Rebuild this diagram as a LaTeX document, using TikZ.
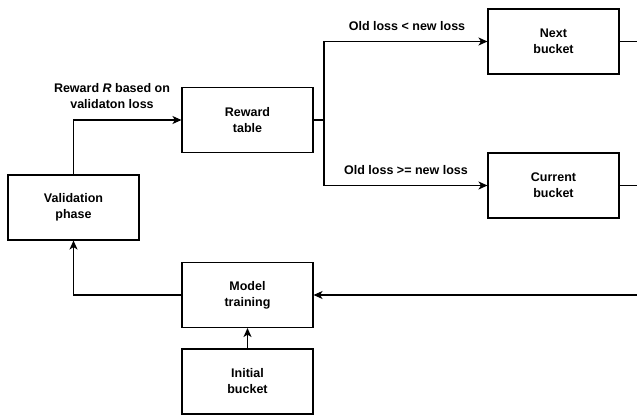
\documentclass[tikz,border=0pt]{standalone}
\usepackage{fontspec}
\setmainfont{Liberation Sans}
\usetikzlibrary{arrows.meta}
\begin{document}
\begin{tikzpicture}[x=1pt,y=-1pt,
  box/.style={draw,line width=1.1pt,minimum width=131pt,minimum height=65pt,inner sep=0pt,align=center,font=\fontsize{12.5}{16}\selectfont\bfseries},
  lbl/.style={align=center,inner sep=0pt,font=\fontsize{12.5}{16}\selectfont\bfseries},
  conn/.style={line width=1.1pt,-{Stealth[length=9pt,width=8pt,inset=2.5pt]}},
  plain/.style={line width=1.1pt}]
\useasboundingbox (0,0) rectangle (637,417);
\node[box] (val) at (73.5,207.5) {Validation\\phase};
\node[box] (rew) at (247.5,120) {Reward\\table};
\node[box] (next) at (553.5,41.5) {Next\\bucket};
\node[box] (cur) at (553.5,185.5) {Current\\bucket};
\node[box] (model) at (247.5,295) {Model\\training};
\node[box] (init) at (247.5,381.5) {Initial\\bucket};
\coordinate (split) at (324,120);
\coordinate (r1) at (638,41.5);
\coordinate (r2) at (638,185.5);
\coordinate (r3) at (638,295);
\draw[conn] (val.north) |- (rew.west);
\node[lbl] (rl) at (112,96) {Reward \textit{R} based on\\validaton loss};
\draw[plain] (rew.east) -- (split);
\draw[conn] (split) |- (next.west);
\draw[conn] (split) |- (cur.west);
\node[lbl] (l1) at (407,26) {Old loss < new loss};
\node[lbl] (l2) at (406,170) {Old loss >= new loss};
\draw[plain] (next.east) -- (r1);
\draw[plain] (cur.east) -- (r2);
\draw[conn] (r3) -- (model.east);
\draw[conn] (model.west) -| (val.south);
\draw[conn] (init.north) -- (model.south);
\end{tikzpicture}
\end{document}
